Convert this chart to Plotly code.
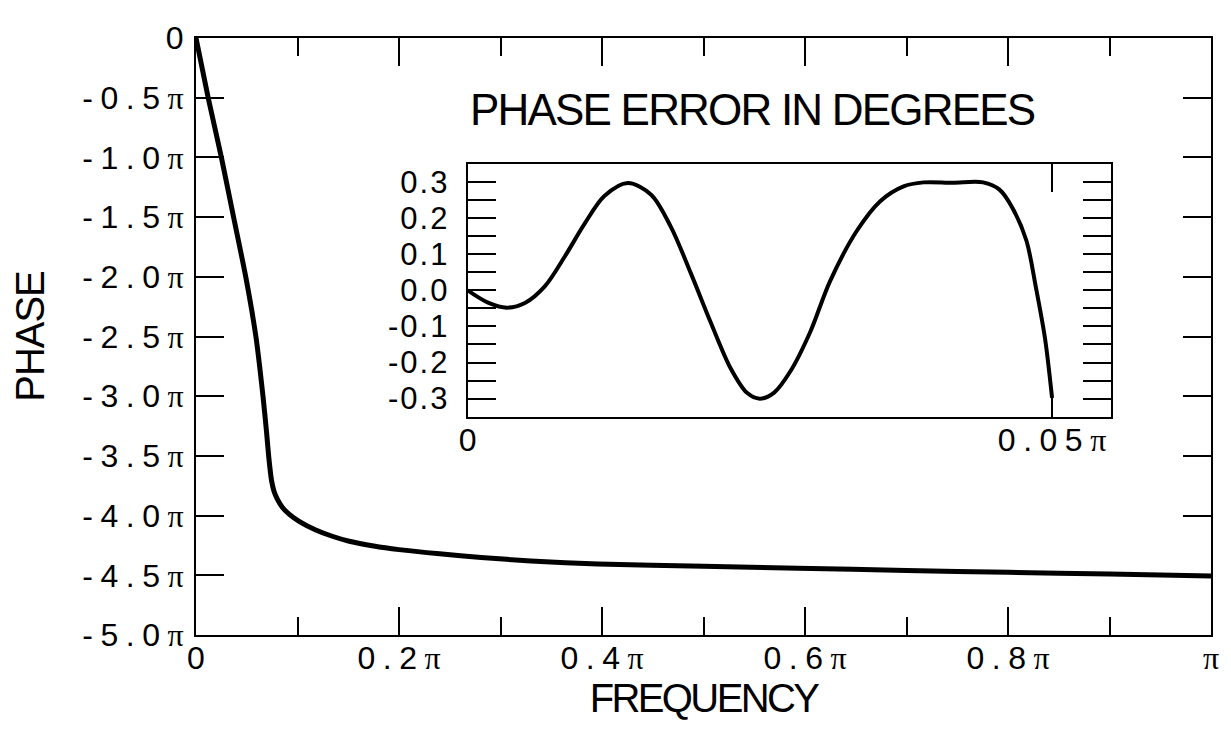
import plotly.graph_objects as go

# ---------------- data (x in units of pi, y in units of pi) ----------------
main_freq = [0, 0.012, 0.025, 0.037, 0.049, 0.059, 0.066, 0.0695, 0.0718,
             0.0745, 0.077, 0.080, 0.085, 0.092, 0.102, 0.118, 0.135, 0.151,
             0.175, 0.2, 0.24, 0.281, 0.33, 0.396, 0.5, 0.593, 0.7, 0.8, 0.9, 1.0]
main_phase = [0, -0.5, -1.0, -1.5, -2.0, -2.5, -3.0, -3.3, -3.52,
              -3.71, -3.80, -3.86, -3.93, -3.99, -4.05, -4.12, -4.175, -4.215,
              -4.255, -4.285, -4.32, -4.35, -4.38, -4.405, -4.425, -4.44, -4.46,
              -4.475, -4.49, -4.505]

inset_freq = [0, 0.0018, 0.00335, 0.0049, 0.0066, 0.0083, 0.0100, 0.0117, 0.0137,
              0.0157, 0.0174, 0.0191, 0.0208, 0.0225, 0.0239, 0.0250, 0.0262,
              0.0276, 0.0293, 0.0310, 0.0333, 0.0353, 0.0373, 0.0390, 0.0415,
              0.0441, 0.0455, 0.0466, 0.0478, 0.0486, 0.0494, 0.0500]
inset_err = [0.0, -0.035, -0.048, -0.035, 0.011, 0.093, 0.184, 0.261, 0.297,
             0.265, 0.175, 0.047, -0.089, -0.216, -0.284, -0.300, -0.284,
             -0.225, -0.116, 0.025, 0.165, 0.247, 0.288, 0.299, 0.298,
             0.299, 0.279, 0.229, 0.138, 0.011, -0.134, -0.298]

main_xticks = [0, 0.2, 0.4, 0.6, 0.8, 1.0]
main_xlabels = ["0", "0.2", "0.4", "0.6", "0.8", ""]
main_xminor = [0.1, 0.3, 0.5, 0.7, 0.9]
main_yticks = [0, -0.5, -1.0, -1.5, -2.0, -2.5, -3.0, -3.5, -4.0, -4.5, -5.0]
main_ylabels = ["0", "-0.5", "-1.0", "-1.5", "-2.0", "-2.5", "-3.0", "-3.5",
                "-4.0", "-4.5", "-5.0"]
inset_yticks = [0.3, 0.2, 0.1, 0.0, -0.1, -0.2, -0.3]
inset_ylabels = ["0.3", "0.2", "0.1", "0.0", "-0.1", "-0.2", "-0.3"]
inset_xticks = [0, 0.05]
inset_xlabels = ["0", "0.05"]

SANS = "Liberation Sans, Arial, sans-serif"
PI = '<span style="font-family:Liberation Serif, Times New Roman, serif">π</span>'


def pi_label(num, spacing=7.5):
    if num == "0":
        return "0"
    if num == "":
        return PI
    return f'<span style="letter-spacing:{spacing}px">{num}</span>{PI}'


def spaced(text, spacing):
    return f'<span style="letter-spacing:{spacing}px">{text}</span>'


fig = go.Figure()
fig.add_trace(go.Scatter(x=main_freq, y=main_phase, mode="lines",
                         line=dict(color="black", width=5, shape="spline",
                                   smoothing=0.6),
                         xaxis="x", yaxis="y", showlegend=False))
fig.add_trace(go.Scatter(x=inset_freq, y=inset_err, mode="lines",
                         line=dict(color="black", width=4, shape="spline",
                                   smoothing=0.9),
                         xaxis="x2", yaxis="y2", showlegend=False))

axis_common = dict(showgrid=False, zeroline=False, showline=True,
                   linecolor="black", linewidth=2, mirror="ticks",
                   ticks="inside", tickcolor="black", tickwidth=2,
                   ticklen=28)

fig.update_layout(
    width=1223, height=726,
    margin=dict(l=188, r=15, t=20, b=99),
    paper_bgcolor="white", plot_bgcolor="white",
    font=dict(family=SANS, size=32, color="black"),
    xaxis=dict(**axis_common, range=[0, 1.0], domain=[0, 1],
               tickvals=main_xticks,
               ticktext=[pi_label(t) for t in main_xlabels],
               tickfont=dict(family=SANS, size=32),
               ticklabelstandoff=-6,
               minor=dict(tickvals=main_xminor, ticks="inside", ticklen=18,
                          tickwidth=2, tickcolor="black"),
               title=dict(text=spaced("FREQUENCY", -2.6),
                          font=dict(family=SANS, size=40),
                          standoff=4)),
    yaxis=dict(**axis_common, range=[-5.0, 0], domain=[0, 1],
               tickvals=main_yticks,
               ticktext=[pi_label(t) for t in main_ylabels],
               tickfont=dict(family=SANS, size=32),
               ticklabelstandoff=4,
               title=dict(text=spaced("PHASE", -1),
                          font=dict(family=SANS, size=40),
                          standoff=29)),
    xaxis2=dict(**axis_common, range=[0, 0.055],
                domain=[0.2676, 0.901], anchor="y2",
                tickvals=inset_xticks,
                ticktext=[pi_label(t) for t in inset_xlabels],
                tickfont=dict(family=SANS, size=32),
                ticklabelstandoff=-6),
    yaxis2=dict(**axis_common, range=[-0.35, 0.35],
                domain=[0.3657, 0.789], anchor="x2",
                tickvals=inset_yticks,
                ticktext=[spaced(t, 2) for t in inset_ylabels],
                tickfont=dict(family=SANS, size=31),
                ticklabelstandoff=10,
                minor=dict(dtick=0.05, tick0=0, ticks="inside", ticklen=28,
                           tickwidth=2, tickcolor="black")),
    annotations=[dict(text=spaced("PHASE ERROR IN DEGREES", -1.8),
                      xref="paper", yref="paper",
                      x=0.548, y=0.8797, xanchor="center", yanchor="middle",
                      showarrow=False,
                      font=dict(family=SANS, size=44, color="black"))],
)

fig.write_html("out.html")
